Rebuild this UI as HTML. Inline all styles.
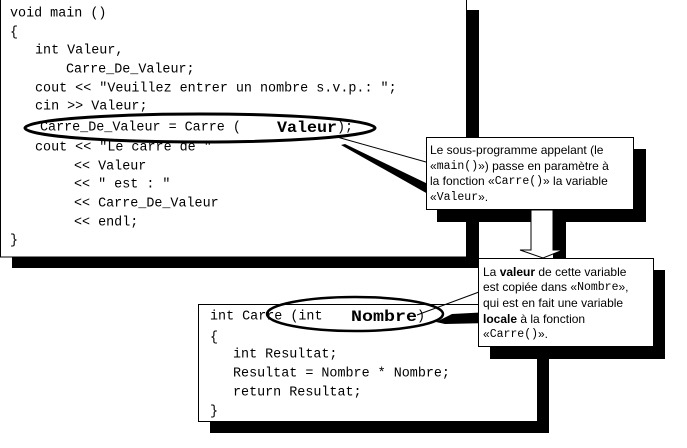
<!DOCTYPE html>
<html><head><meta charset="utf-8"><style>
html,body{margin:0;padding:0;background:#fff;width:687px;height:448px;overflow:hidden}
svg{display:block}
.m{font-family:"Liberation Mono",monospace;font-size:13.4px;fill:#000}
.b{font-family:"Liberation Mono",monospace;font-size:16px;font-weight:bold;fill:#000}
.s{font-family:"Liberation Sans",sans-serif;font-size:12px;fill:#000}
.sm{font-family:"Liberation Mono",monospace;font-size:11.5px}
</style></head><body>
<svg width="687" height="448" viewBox="0 0 687 448" xmlns="http://www.w3.org/2000/svg">
<rect x="12" y="10" width="467" height="258" fill="#000"/>
<rect x="0.5" y="-1" width="466" height="258" fill="#fff" stroke="#000"/>
<g class="m" dominant-baseline="central">
<text x="10" y="14">void main ()</text>
<text x="10" y="33">{</text>
<text x="35" y="51">int Valeur,</text>
<text x="66" y="70">Carre_De_Valeur;</text>
<text x="35" y="89">cout &lt;&lt; "Veuillez entrer un nombre s.v.p.: ";</text>
<text x="35" y="107">cin &gt;&gt; Valeur;</text>
<text x="40" y="128">Carre_De_Valeur = Carre (</text>
<text x="337" y="128">);</text>
<text x="35" y="148">cout &lt;&lt; "Le carré de "</text>
<text x="74" y="167">&lt;&lt; Valeur</text>
<text x="74" y="185">&lt;&lt; " est : "</text>
<text x="74" y="204">&lt;&lt; Carre_De_Valeur</text>
<text x="74" y="223">&lt;&lt; endl;</text>
<text x="10" y="241">}</text>
</g>
<text class="b" x="277" y="128" dominant-baseline="central" textLength="60" lengthAdjust="spacingAndGlyphs">Valeur</text>
<ellipse cx="200" cy="128" rx="175" ry="14" fill="none" stroke="#000" stroke-width="3"/>

<line x1="337" y1="137" x2="426" y2="162" stroke="#000" stroke-width="1"/>
<polygon points="341,145 345,144 428,184 428,194" fill="#000"/>

<rect x="437" y="149" width="209" height="73" fill="#000"/>
<rect x="426.5" y="137.5" width="207" height="72" fill="#fff" stroke="#000"/>
<g class="s" dominant-baseline="central">
<text x="430" y="150">Le sous-programme appelant (le</text>
<text x="430" y="166">«<tspan class="sm">main()</tspan>») passe en paramètre à</text>
<text x="430" y="181">la fonction «<tspan class="sm">Carre()</tspan>» la variable</text>
<text x="430" y="197">«<tspan class="sm">Valeur</tspan>».</text>
</g>

<rect x="553" y="210" width="13" height="48" fill="#000"/>
<polygon points="563,250 566,250 566,258 553,258" fill="#000"/>
<polygon points="531,210 553,210 553,250 563,250 543,258 520,250 531,250" fill="#fff" stroke="#000"/>

<rect x="210" y="316" width="339" height="117" fill="#000"/>
<rect x="198.5" y="304.5" width="339" height="117" fill="#fff" stroke="#000"/>
<g class="m" dominant-baseline="central">
<text x="210" y="317">int Carre (int</text>
<text x="417" y="317">)</text>
<text x="210" y="338">{</text>
<text x="233" y="355">int Resultat;</text>
<text x="233" y="374">Resultat = Nombre * Nombre;</text>
<text x="233" y="393">return Resultat;</text>
<text x="210" y="412">}</text>
</g>
<text class="b" x="351" y="317" dominant-baseline="central" textLength="66" lengthAdjust="spacingAndGlyphs">Nombre</text>
<ellipse cx="355" cy="314" rx="88" ry="17" fill="none" stroke="#000" stroke-width="2.5"/>

<line x1="417" y1="315" x2="479" y2="292" stroke="#000"/>
<polygon points="436,322 452,314 490,312 490,323 445,324" fill="#000"/>

<rect x="490" y="270" width="175" height="89" fill="#000"/>
<rect x="478.5" y="258.5" width="175" height="88" fill="#fff" stroke="#000"/>
<g class="s" dominant-baseline="central">
<text x="483" y="272">La <tspan font-weight="bold">valeur</tspan> de cette variable</text>
<text x="483" y="287">est copiée dans «<tspan class="sm">Nombre</tspan>»,</text>
<text x="483" y="303">qui est en fait une variable</text>
<text x="483" y="319"><tspan font-weight="bold">locale</tspan> à la fonction</text>
<text x="483" y="334">«<tspan class="sm">Carre()</tspan>».</text>
</g>
</svg>
</body></html>
